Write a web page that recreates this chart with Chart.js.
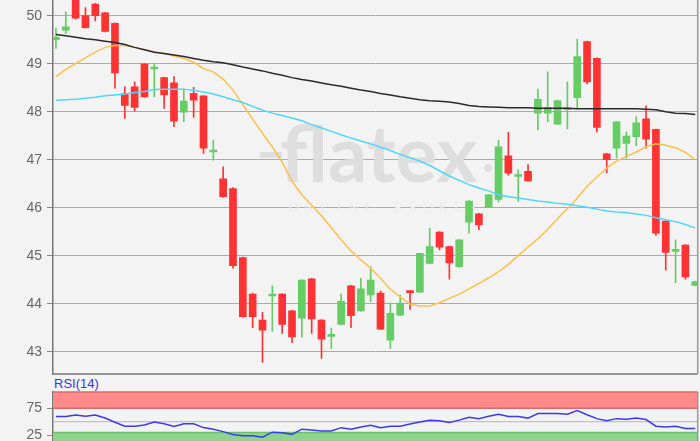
<!DOCTYPE html>
<html>
<head>
<meta charset="utf-8">
<script src="https://cdn.jsdelivr.net/npm/chart.js@4.4.1/dist/chart.umd.min.js"></script>
<style>
html, body { margin: 0; padding: 0; width: 700px; height: 441px; overflow: hidden; background: #f3f3f3; }
#main { position: absolute; left: 0; top: 0; }
#rsi { position: absolute; left: 0; top: 388px; }
#rsiLabel { position: absolute; left: 54px; top: 377px; font: 13px "Liberation Sans", Arial, sans-serif; line-height: 14px; color: #3434e8; }
</style>
</head>
<body>
<canvas id="main" width="700" height="376" style="width:700px;height:376px"></canvas>
<div id="rsiLabel">RSI(14)</div>
<canvas id="rsi" width="700" height="70" style="width:700px;height:70px"></canvas>
<script>
// daily candles
const opens  = [49.50, 49.70, 50.50, 50.00, 50.24, 50.06, 49.84, 48.37, 48.52, 48.99, 48.89, 48.71, 48.60, 47.99, 48.38, 48.33, 47.16, 46.60, 46.40, 44.96, 44.20, 43.66, 44.16, 44.20, 43.85, 43.70, 44.52, 43.66, 43.32, 43.57, 44.37, 43.85, 44.18, 44.22, 43.24, 43.76, 44.25, 44.24, 44.84, 45.49, 45.19, 44.77, 45.70, 45.87, 46.01, 46.17, 47.08, 46.65, 46.76, 47.97, 47.97, 47.74, 48.04, 48.29, 49.46, 49.11, 47.12, 47.24, 47.34, 47.48, 47.85, 47.63, 45.72, 45.09, 45.22, 44.38];
const highs  = [49.74, 50.08, 50.70, 50.17, 50.26, 50.07, 49.85, 48.52, 48.62, 49.00, 49.01, 48.72, 48.73, 48.45, 48.51, 48.33, 47.41, 46.85, 46.42, 44.97, 44.22, 43.82, 44.37, 44.21, 43.86, 44.50, 44.53, 43.67, 43.49, 44.20, 44.38, 44.53, 44.77, 44.26, 44.01, 44.18, 44.26, 45.05, 45.57, 45.50, 45.20, 45.34, 46.15, 45.88, 46.28, 47.41, 47.57, 46.79, 46.90, 48.47, 48.83, 48.24, 48.62, 49.51, 49.47, 49.12, 47.13, 47.80, 47.58, 47.90, 48.12, 47.64, 45.73, 45.33, 45.23, 44.47];
const lows   = [49.32, 49.63, 49.93, 49.74, 49.89, 49.66, 48.49, 47.86, 48.01, 48.30, 48.31, 48.07, 47.69, 47.79, 47.88, 47.13, 46.99, 46.22, 44.74, 43.72, 43.50, 42.78, 43.42, 43.38, 43.19, 43.30, 43.38, 42.86, 43.07, 43.56, 43.50, 43.84, 44.04, 43.46, 43.07, 43.75, 43.88, 44.23, 44.83, 45.12, 44.51, 44.76, 45.47, 45.54, 46.00, 46.12, 46.68, 46.13, 46.55, 47.62, 47.79, 47.73, 47.64, 48.05, 48.58, 47.58, 46.73, 47.04, 47.03, 47.29, 47.24, 45.42, 44.70, 44.44, 44.51, 44.37];
const closes = [49.55, 49.77, 49.95, 49.75, 50.00, 49.67, 48.81, 48.13, 48.09, 48.31, 48.92, 48.35, 47.80, 48.22, 48.24, 47.24, 47.18, 46.23, 44.79, 43.73, 43.73, 43.45, 44.19, 43.57, 43.31, 44.49, 43.68, 43.26, 43.34, 44.05, 43.75, 44.31, 44.49, 43.47, 43.80, 44.01, 44.23, 45.05, 45.19, 45.18, 44.85, 45.33, 46.14, 45.64, 46.27, 47.27, 46.72, 46.67, 46.56, 48.26, 48.09, 48.23, 48.08, 49.15, 48.62, 47.67, 47.00, 47.79, 47.49, 47.77, 47.43, 45.47, 45.07, 45.11, 44.56, 44.46];

// moving averages
const maLong  = [49.61, 49.58, 49.55, 49.52, 49.50, 49.47, 49.44, 49.40, 49.34, 49.29, 49.24, 49.21, 49.18, 49.15, 49.11, 49.07, 49.04, 49.02, 48.98, 48.93, 48.89, 48.85, 48.80, 48.76, 48.71, 48.67, 48.64, 48.60, 48.56, 48.53, 48.49, 48.45, 48.42, 48.38, 48.35, 48.31, 48.28, 48.25, 48.23, 48.22, 48.20, 48.17, 48.13, 48.11, 48.10, 48.09, 48.08, 48.08, 48.08, 48.07, 48.07, 48.07, 48.07, 48.06, 48.06, 48.06, 48.06, 48.06, 48.06, 48.06, 48.05, 48.04, 48.00, 47.97, 47.96, 47.94];
const maMid   = [48.24, 48.25, 48.26, 48.28, 48.30, 48.33, 48.35, 48.37, 48.40, 48.42, 48.46, 48.47, 48.47, 48.47, 48.44, 48.41, 48.37, 48.31, 48.25, 48.19, 48.11, 48.03, 47.97, 47.92, 47.87, 47.81, 47.73, 47.66, 47.59, 47.52, 47.45, 47.39, 47.33, 47.26, 47.19, 47.11, 47.04, 46.97, 46.88, 46.77, 46.66, 46.57, 46.48, 46.41, 46.35, 46.27, 46.23, 46.20, 46.17, 46.14, 46.12, 46.09, 46.07, 46.04, 46.01, 45.97, 45.93, 45.91, 45.90, 45.87, 45.84, 45.79, 45.75, 45.71, 45.65, 45.58];
const maShort = [48.73, 48.88, 49.00, 49.12, 49.24, 49.34, 49.38, 49.38, 49.34, 49.29, 49.25, 49.21, 49.16, 49.11, 49.03, 48.90, 48.83, 48.68, 48.45, 48.15, 47.84, 47.55, 47.27, 46.95, 46.55, 46.27, 46.05, 45.83, 45.58, 45.33, 45.10, 44.91, 44.74, 44.53, 44.30, 44.14, 43.99, 43.95, 43.95, 44.02, 44.11, 44.20, 44.31, 44.42, 44.54, 44.67, 44.82, 45.00, 45.18, 45.35, 45.55, 45.77, 45.98, 46.20, 46.44, 46.64, 46.83, 46.97, 47.07, 47.16, 47.27, 47.33, 47.30, 47.25, 47.15, 47.00];

// RSI(14)
const rsi = [59.6, 59.6, 62.4, 60.1, 62.4, 57.0, 49.0, 41.6, 41.6, 44.0, 49.5, 46.0, 41.0, 46.0, 46.0, 39.0, 36.0, 31.5, 26.0, 23.7, 23.7, 21.0, 30.5, 29.3, 26.4, 36.0, 34.3, 32.7, 32.7, 38.9, 36.0, 40.0, 43.3, 38.9, 41.6, 41.6, 45.6, 49.5, 52.5, 51.7, 48.5, 52.9, 58.4, 55.7, 60.0, 64.0, 59.6, 59.6, 56.7, 65.2, 65.2, 65.2, 64.0, 70.9, 63.0, 55.7, 51.7, 55.7, 54.5, 56.7, 54.0, 41.6, 39.9, 41.6, 37.2, 37.2];
const rsiTicks = [25, 75];

const UP = '#66cc66';
const DOWN = '#ff3333';
const candleColors = opens.map((o, i) => closes[i] >= o ? UP : DOWN);
const idx = opens.map((o, i) => i);

function keepWidth(w) {
    return scale => {
        scale.width = w;
        scale.paddingTop = 0;
        scale.paddingBottom = 0;
    };
}

const xScale = { type: 'linear', min: -0.3, max: 65.25, offset: false, display: false };

// faint logo behind the candles
const watermark = {
    id: 'watermark',
    beforeDatasetsDraw(chart) {
        const ctx = chart.ctx;
        ctx.save();
        ctx.fillStyle = '#dedede';
        ctx.font = 'bold 54px Lato';
        const w = ctx.measureText('flatex').width;
        ctx.font = 'bold ' + Math.round(54 * 197 / w) + 'px Lato';
        ctx.fillText('flatex', 280, 182);
        ctx.fillRect(260, 152, 22, 6);
        ctx.beginPath();
        ctx.arc(488, 168, 4, 0, Math.PI * 2);
        ctx.fill();
        // spaced-out letters, one by one
        ctx.fillStyle = '#ececec';
        ctx.font = '13px Lato';
        ctx.textAlign = 'center';
        'ONLINE BROKER'.split('').forEach((c, k) => ctx.fillText(c, 294 + k * 14.9, 212));
        ctx.restore();
    }
};

const frame = {
    id: 'frame',
    afterDraw(chart) {
        const { ctx, chartArea: a } = chart;
        ctx.save();
        ctx.strokeStyle = '#777';
        ctx.lineWidth = 1.5;
        ctx.beginPath();
        ctx.moveTo(a.left, a.bottom);
        ctx.lineTo(a.right, a.bottom);
        ctx.stroke();
        ctx.strokeStyle = '#999';
        ctx.beginPath();
        ctx.moveTo(a.right, a.top);
        ctx.lineTo(a.right, a.bottom);
        ctx.stroke();
        ctx.restore();
    }
};

new Chart(document.getElementById('main'), {
    type: 'bar',
    data: {
        datasets: [
            { type: 'line', data: idx.map(i => ({ x: i, y: maLong[i] })), borderColor: '#2a2a2a', borderWidth: 1.5, pointRadius: 0, order: 0 },
            { type: 'line', data: idx.map(i => ({ x: i, y: maMid[i] })), borderColor: '#4fd6fb', borderWidth: 1.5, pointRadius: 0, order: 0 },
            { type: 'line', data: idx.map(i => ({ x: i, y: maShort[i] })), borderColor: '#fbc04e', borderWidth: 1.5, pointRadius: 0, order: 0 },
            { data: idx.map(i => ({ x: i, y: [opens[i], closes[i]] })), backgroundColor: candleColors, barThickness: 7, minBarLength: 2, grouped: false, order: 1 },
            { data: idx.map(i => ({ x: i, y: [lows[i], highs[i]] })), backgroundColor: candleColors, barThickness: 1, grouped: false, order: 2 }
        ]
    },
    options: {
        responsive: false,
        animation: false,
        devicePixelRatio: 1,
        layout: { padding: { top: 0, right: 2.3, bottom: 2, left: 0 } },
        plugins: { legend: { display: false }, tooltip: { enabled: false } },
        scales: {
            x: xScale,
            y: {
                min: 42.535,
                max: 50.327,
                afterFit: keepWidth(53),
                ticks: { stepSize: 1, includeBounds: false, color: '#666', padding: 5, font: { family: '"Liberation Sans", Arial', size: 14 } },
                grid: { color: '#ababab', lineWidth: 1, tickLength: 6, tickColor: '#888' },
                border: { color: '#777', width: 1.5 }
            }
        }
    },
    plugins: [watermark, frame]
});

// RSI bands and middle line
const rsiBands = {
    id: 'rsiBands',
    beforeDatasetsDraw(chart) {
        const { ctx, chartArea: a, scales: { y } } = chart;
        const y75 = y.getPixelForValue(75);
        const y50 = y.getPixelForValue(50);
        const y30 = y.getPixelForValue(30);
        ctx.save();
        ctx.fillStyle = '#ff8a8a';
        ctx.fillRect(a.left, a.top, a.right - a.left, y75 - a.top);
        ctx.fillStyle = '#8ed38e';
        ctx.fillRect(a.left, y30, a.right - a.left, a.bottom - y30);
        ctx.lineWidth = 1.5;
        ctx.strokeStyle = '#d86a6a';
        ctx.beginPath();
        ctx.moveTo(a.left, a.top); ctx.lineTo(a.right, a.top);
        ctx.moveTo(a.left, y75); ctx.lineTo(a.right, y75);
        ctx.stroke();
        ctx.strokeStyle = '#6cbf6c';
        ctx.beginPath();
        ctx.moveTo(a.left, y30); ctx.lineTo(a.right, y30);
        ctx.stroke();
        ctx.strokeStyle = '#b5b5b5';
        ctx.lineWidth = 1;
        ctx.beginPath();
        ctx.moveTo(a.left, y50); ctx.lineTo(a.right, y50);
        ctx.stroke();
        ctx.restore();
    }
};

new Chart(document.getElementById('rsi'), {
    type: 'line',
    data: {
        datasets: [
            { data: idx.map(i => ({ x: i, y: rsi[i] })), borderColor: '#3a3af2', borderWidth: 1.5, pointRadius: 0 }
        ]
    },
    options: {
        responsive: false,
        animation: false,
        devicePixelRatio: 1,
        layout: { padding: { top: 4, right: 2.3, bottom: 9.5, left: 0 } },
        plugins: { legend: { display: false }, tooltip: { enabled: false } },
        scales: {
            x: xScale,
            y: {
                min: 0,
                max: 105.4,
                afterFit: keepWidth(53),
                afterBuildTicks: scale => { scale.ticks = rsiTicks.map(v => ({ value: v })); },
                ticks: { color: '#666', padding: 5, font: { family: '"Liberation Sans", Arial', size: 14 } },
                grid: { drawOnChartArea: false, tickLength: 6, tickColor: '#888' },
                border: { color: '#777', width: 1.5 }
            }
        }
    },
    plugins: [rsiBands, frame]
});
</script>
</body>
</html>
